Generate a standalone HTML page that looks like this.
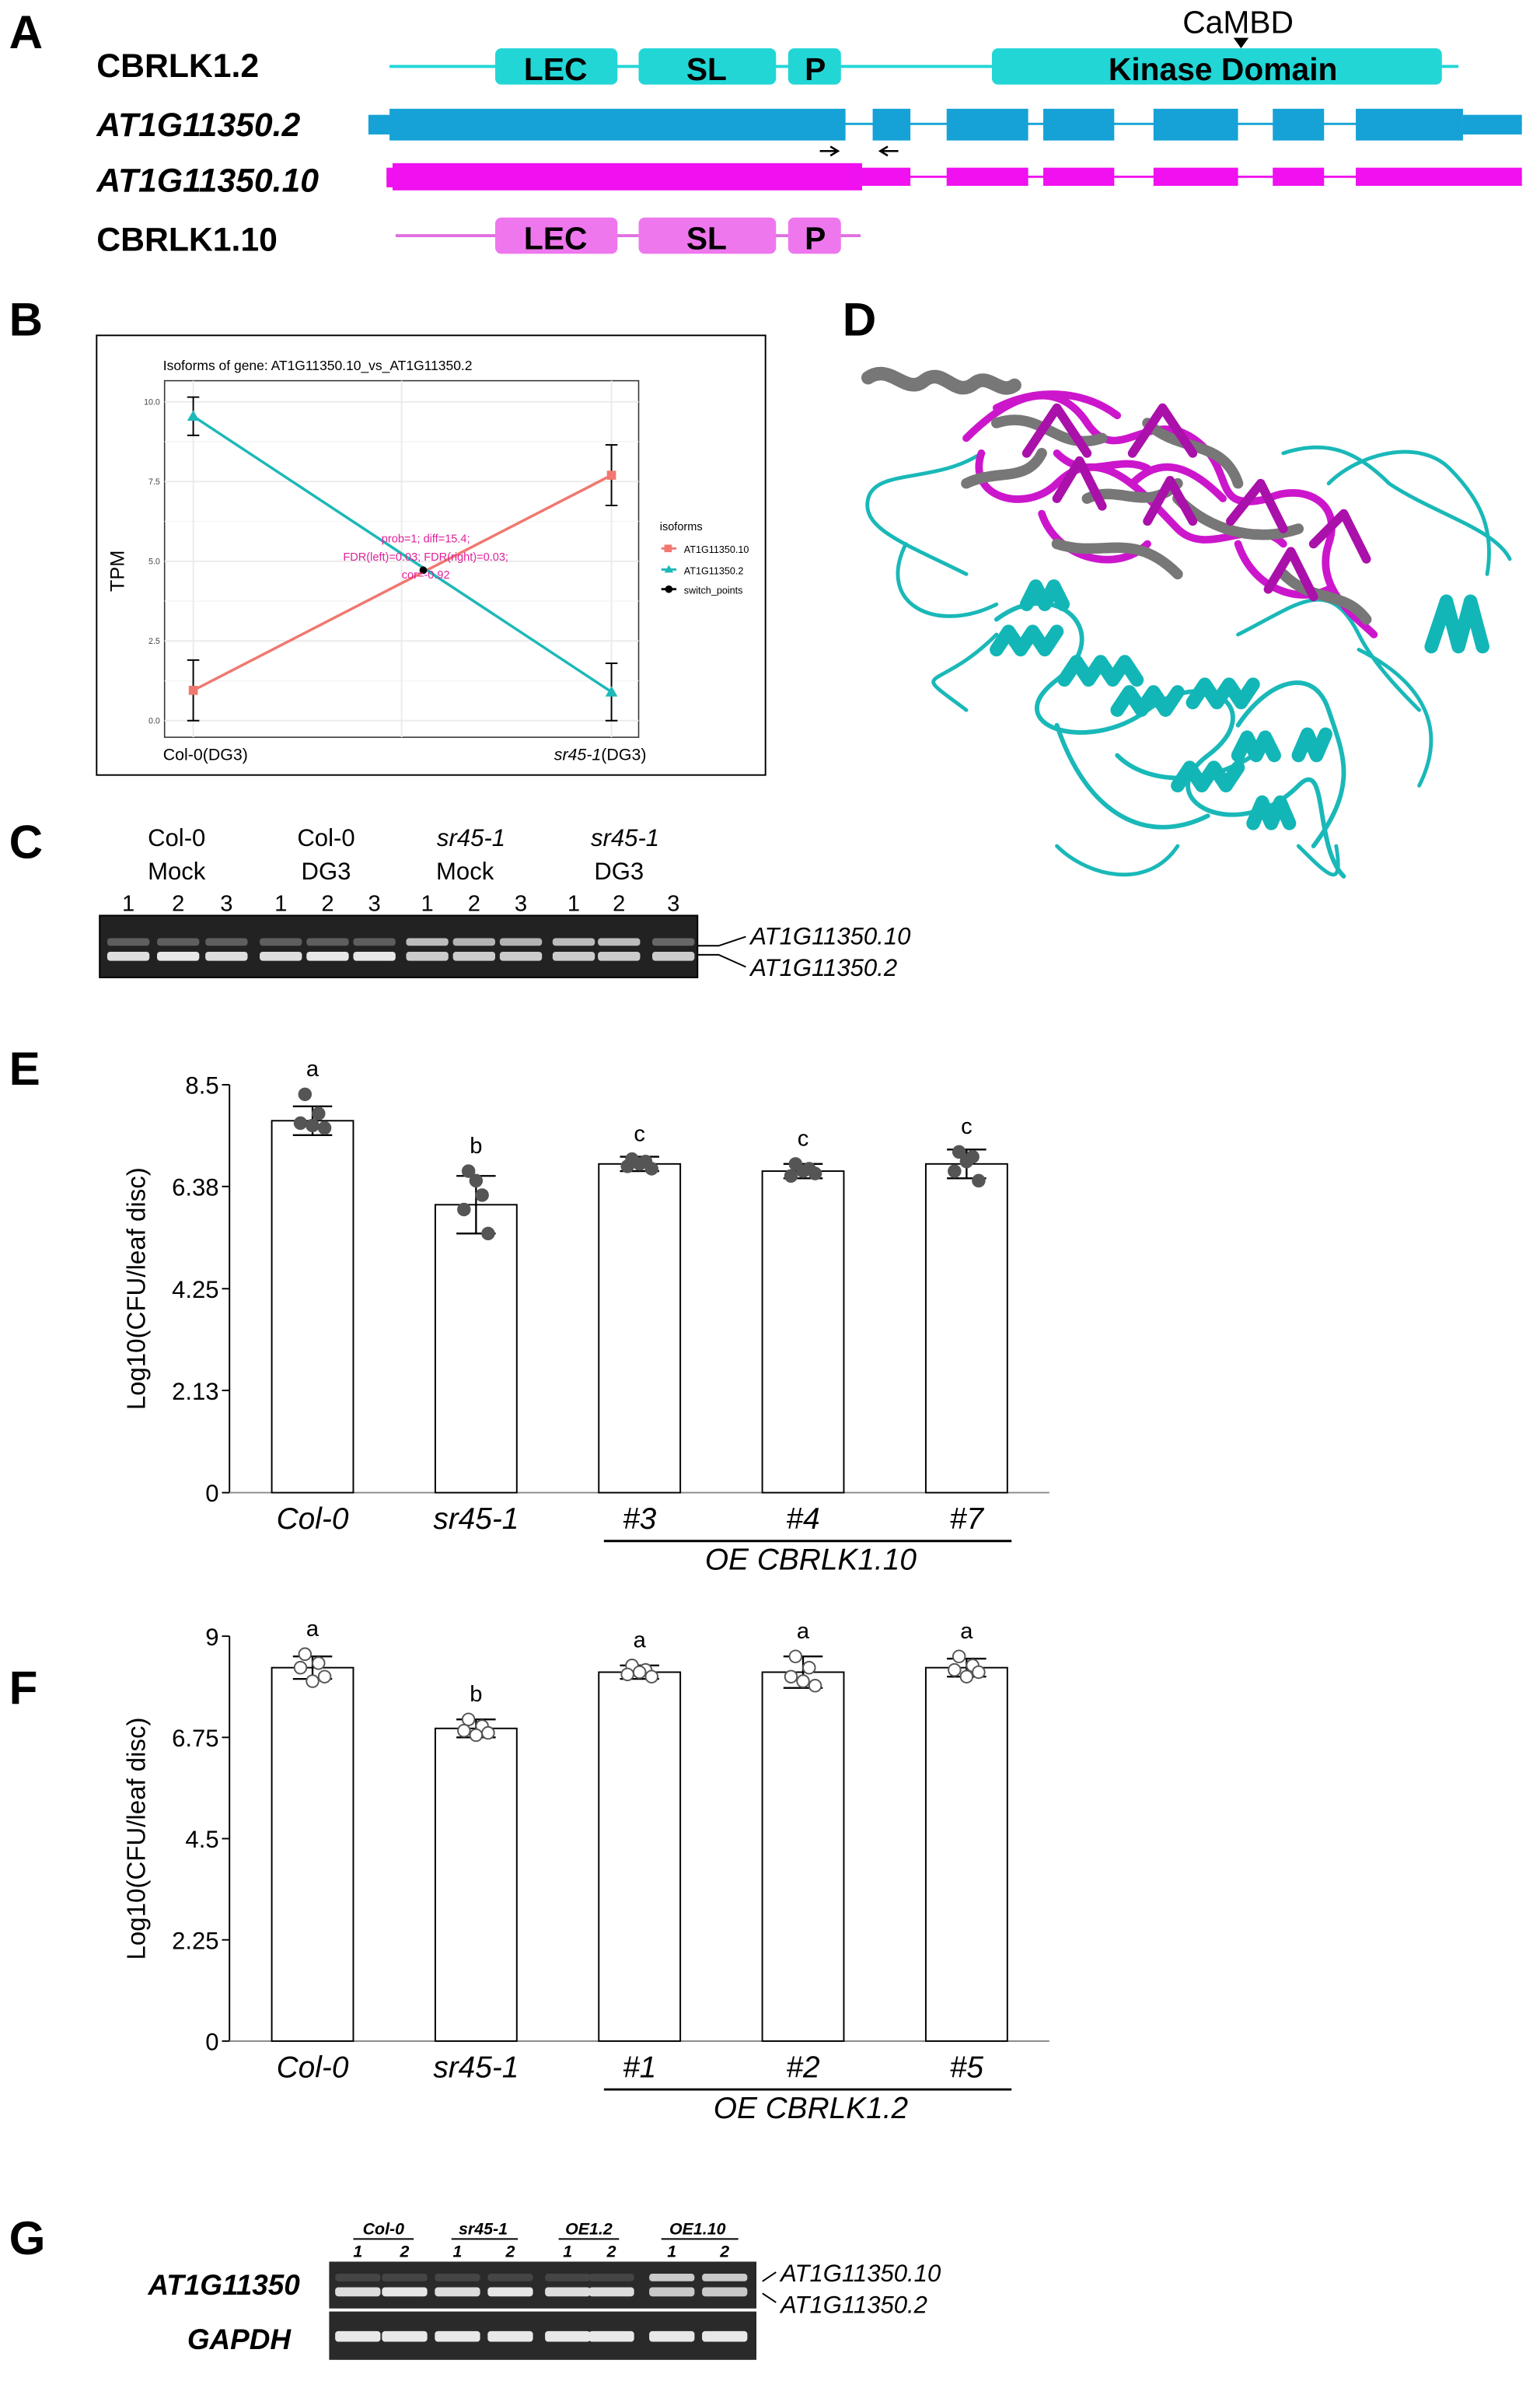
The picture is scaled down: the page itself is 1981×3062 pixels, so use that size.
<!DOCTYPE html>
<html><head><meta charset="utf-8">
<style>
html,body{margin:0;padding:0;background:#fff;}
svg{display:block;font-family:"Liberation Sans",Arial,sans-serif;}
</style></head>
<body>
<svg id="fig" xmlns="http://www.w3.org/2000/svg" width="1981" height="3062" viewBox="0 0 1020 1576" preserveAspectRatio="none">
<rect x="0" y="0" width="1020" height="1576" fill="#fff"/>

<!-- Panel letters -->
<g font-weight="bold" font-size="31" fill="#000">
<text x="6" y="32">A</text><text x="6" y="222">B</text><text x="558" y="222">D</text>
<text x="6" y="568">C</text><text x="6" y="718">E</text><text x="6" y="1128">F</text><text x="6" y="1492">G</text>
</g>

<!-- Panel A -->
<g>
<g font-weight="bold" font-size="22" fill="#000">
<text x="64" y="51">CBRLK1.2</text>
<text x="64" y="90" font-style="italic">AT1G11350.2</text>
<text x="64" y="127" font-style="italic">AT1G11350.10</text>
<text x="64" y="166">CBRLK1.10</text>
</g>
<line x1="258" y1="44" x2="966" y2="44" stroke="#22d6d6" stroke-width="2"/>
<g fill="#22d6d6">
<rect x="328" y="32" width="81" height="24" rx="4"/><rect x="423" y="32" width="91" height="24" rx="4"/>
<rect x="522" y="32" width="35" height="24" rx="4"/><rect x="657" y="32" width="298" height="24" rx="4"/>
</g>
<g font-weight="bold" font-size="21" fill="#000" text-anchor="middle">
<text x="368" y="53">LEC</text><text x="468" y="53">SL</text><text x="540" y="53">P</text><text x="810" y="53">Kinase Domain</text>
<text x="820" y="22" font-weight="normal">CaMBD</text>
</g>
<path d="M817 25 L827 25 L822 32 Z" fill="#000"/>
<line x1="244" y1="82" x2="1008" y2="82" stroke="#16a2d6" stroke-width="1.5"/>
<g fill="#16a2d6">
<rect x="244" y="76" width="16" height="13"/><rect x="258" y="72" width="302" height="21"/>
<rect x="578" y="72" width="25" height="21"/><rect x="627" y="72" width="54" height="21"/>
<rect x="691" y="72" width="47" height="21"/><rect x="764" y="72" width="56" height="21"/>
<rect x="843" y="72" width="34" height="21"/><rect x="898" y="72" width="71" height="21"/>
<rect x="969" y="76" width="39" height="13"/>
</g>
<path d="M543 100 H554 M550 97 L555 100 L550 103" stroke="#000" stroke-width="1.3" fill="none"/>
<path d="M595 100 H584 M588 97 L583 100 L588 103" stroke="#000" stroke-width="1.3" fill="none"/>
<line x1="256" y1="117" x2="1008" y2="117" stroke="#f010f0" stroke-width="1.5"/>
<g fill="#f010f0">
<rect x="256" y="111" width="6" height="13"/><rect x="260" y="108" width="311" height="18"/>
<rect x="571" y="111" width="32" height="12"/><rect x="627" y="111" width="54" height="12"/>
<rect x="691" y="111" width="47" height="12"/><rect x="764" y="111" width="56" height="12"/>
<rect x="843" y="111" width="34" height="12"/><rect x="898" y="111" width="110" height="12"/>
</g>
<line x1="262" y1="156" x2="570" y2="156" stroke="#e070e0" stroke-width="2"/>
<g fill="#ee77ee">
<rect x="328" y="144" width="81" height="24" rx="4"/><rect x="423" y="144" width="91" height="24" rx="4"/>
<rect x="522" y="144" width="35" height="24" rx="4"/>
</g>
<g font-weight="bold" font-size="21" fill="#000" text-anchor="middle">
<text x="368" y="165">LEC</text><text x="468" y="165">SL</text><text x="540" y="165">P</text>
</g>
</g>

<!-- Panel B -->
<g id="panelB">
<rect x="64" y="222" width="443" height="291" fill="#fff" stroke="#000" stroke-width="1"/>
<text x="108" y="245" font-size="9" fill="#000">Isoforms of gene: AT1G11350.10_vs_AT1G11350.2</text>
<rect x="109" y="252" width="314" height="236" fill="#fff" stroke="#333" stroke-width="0.8"/>
<g id="bGrid"></g>
<text transform="translate(82,378) rotate(-90)" text-anchor="middle" font-size="13" fill="#000">TPM</text>
<text x="108" y="503" font-size="11" fill="#000">Col-0(DG3)</text>
<text x="367" y="503" font-size="11" fill="#000"><tspan font-style="italic">sr45-1</tspan>(DG3)</text>
<g id="bMarks"></g>
<g font-size="6.5" fill="#000">
<text x="437" y="351" font-size="7.5">isoforms</text>
<line x1="438" y1="363" x2="448" y2="363" stroke="#f07870" stroke-width="1.5"/><rect x="440" y="360.5" width="5" height="5" fill="#f07870"/><text x="453" y="366">AT1G11350.10</text>
<line x1="438" y1="377" x2="448" y2="377" stroke="#1db8b8" stroke-width="1.5"/><path d="M443 374 L446 379 L440 379Z" fill="#1db8b8"/><text x="453" y="380">AT1G11350.2</text>
<line x1="438" y1="390" x2="448" y2="390" stroke="#000" stroke-width="1.5"/><circle cx="443" cy="390" r="2.5" fill="#000"/><text x="453" y="393">switch_points</text>
</g>
<g font-size="7.5" fill="#e0209a" text-anchor="middle">
<text x="282" y="359">prob=1; diff=15.4;</text>
<text x="282" y="371">FDR(left)=0.03; FDR(right)=0.03;</text>
<text x="282" y="383">cor=-0.92</text>
</g>
</g>

<!-- Panel D: protein structure (approximation) -->
<g fill="none" stroke-linecap="round" stroke-linejoin="round">
<path d="M575 250 C590 240,600 262,612 252 C625 242,632 264,645 254 C655 246,662 262,672 255" stroke="#777" stroke-width="9"/>
<path d="M640 380 C600 360,570 350,575 330 C580 310,620 320,650 300 M660 420 C620 460,600 440,640 470 M600 360 C580 400,620 420,660 400 M850 300 C880 290,900 300,920 320 C950 340,990 350,1000 370 M900 430 C940 450,960 480,940 520 M700 560 C720 580,760 590,780 560 M860 560 C880 580,890 590,885 560" stroke="#1ab8b8" stroke-width="2.5"/>
<path d="M660 410 C700 380,740 420,700 450 C660 480,720 500,760 470 C800 440,840 470,800 500 C760 530,820 560,860 520 C880 500,870 560,890 580 M700 480 C720 540,760 560,800 540 M820 480 C840 450,870 440,880 470 C890 500,900 520,870 560 M740 500 C760 520,800 520,830 500" stroke="#1ab8b8" stroke-width="3"/>
<path d="M880 320 C900 300,940 290,960 310 C980 330,990 350,985 380 M820 420 C860 400,880 380,900 420 C910 440,930 460,940 470" stroke="#1ab8b8" stroke-width="2.5"/>
<path d="M948 428 l10 -30 l8 30 l8 -30 l8 30 M660 430 l8 -12 l8 12 l8 -12 l8 12 l8 -12 M705 450 l8 -12 l8 12 l8 -12 l8 12 l8 -12 l8 12 M740 470 l8 -12 l8 12 l8 -12 l8 12 l8 -12 M790 465 l8 -12 l8 12 l8 -12 l8 12 l8 -12 M780 520 l8 -12 l8 12 l8 -12 l8 12 l8 -12 M820 500 l6 -12 l6 12 l6 -12 l6 12 M860 500 l6 -14 l6 14 l6 -14 M830 545 l6 -14 l6 14 l6 -14 l6 14 M680 400 l6 -12 l6 12 l6 -12 l6 12" stroke="#13b6b6" stroke-width="9"/>
<path d="M640 290 C670 260,700 250,720 280 C740 310,760 270,790 290 C820 310,800 340,840 330 C860 320,890 330,880 360 C870 390,900 410,910 420 M650 300 C640 330,680 340,700 320 C730 290,760 330,780 350 C800 370,830 340,850 360 M690 340 C700 370,740 380,760 360 M820 360 C830 390,860 400,880 390 M660 270 C690 255,720 260,740 275 M750 320 C770 300,790 310,810 330 M700 300 C720 320,740 300,760 310" stroke="#cc16cc" stroke-width="5"/>
<path d="M660 280 C690 270,700 300,730 290 M760 280 C780 300,810 290,820 320 M780 330 C800 350,830 360,860 350 M700 360 C730 370,750 350,780 380 M850 380 C870 400,890 390,905 410 M640 320 C660 310,680 320,690 300 M720 330 C740 320,760 340,780 320" stroke="#777" stroke-width="7"/>
<path d="M750 300 L770 270 L790 300 M815 345 L835 320 L850 350 M870 360 L890 340 L905 370 M680 300 L700 270 L720 300 M700 330 L715 305 L730 335 M760 345 L775 318 L790 345 M840 390 L855 365 L870 395" stroke="#aa10aa" stroke-width="6"/>
</g>

<!-- Panel C gel -->
<g>
<g font-size="16" fill="#000" text-anchor="middle">
<text x="117" y="560">Col-0</text><text x="117" y="582">Mock</text>
<text x="216" y="560">Col-0</text><text x="216" y="582">DG3</text>
<text x="312" y="560" font-style="italic">sr45-1</text><text x="308" y="582">Mock</text>
<text x="414" y="560" font-style="italic">sr45-1</text><text x="410" y="582">DG3</text>
</g>
<g id="cLanes" font-size="15" fill="#000" text-anchor="middle"></g>
<rect x="66" y="606" width="396" height="41" fill="#222" stroke="#000"/>
<g id="cBands"></g>
<g font-size="16" font-style="italic" fill="#000">
<text x="497" y="625">AT1G11350.10</text><text x="497" y="646">AT1G11350.2</text>
</g>
<path d="M462 626 L476 626 L494 620 M462 632 L476 632 L494 640" stroke="#000" stroke-width="1" fill="none"/>
</g>

<g id="panelE"></g>
<g id="panelF"></g>

<!-- Panel G gel -->
<g>
<g font-size="11" font-weight="bold" font-style="italic" fill="#000" text-anchor="middle">
<text x="254" y="1479">Col-0</text><text x="320" y="1479">sr45-1</text><text x="390" y="1479">OE1.2</text><text x="462" y="1479">OE1.10</text>
<text x="237" y="1494">1</text><text x="268" y="1494">2</text><text x="303" y="1494">1</text><text x="338" y="1494">2</text>
<text x="376" y="1494">1</text><text x="405" y="1494">2</text><text x="445" y="1494">1</text><text x="480" y="1494">2</text>
</g>
<path d="M234 1482 H274 M299 1482 H343 M370 1482 H410 M438 1482 H489" stroke="#000" stroke-width="1"/>
<text x="98" y="1519" font-size="19" font-weight="bold" font-style="italic">AT1G11350</text>
<text x="124" y="1555" font-size="19" font-weight="bold" font-style="italic">GAPDH</text>
<rect x="218" y="1497" width="283" height="31" fill="#2a2a2a"/>
<rect x="218" y="1530" width="283" height="32" fill="#2a2a2a"/>
<g id="gBands"></g>
<g font-size="16" font-style="italic" fill="#000"><text x="517" y="1510">AT1G11350.10</text><text x="517" y="1531">AT1G11350.2</text></g>
<path d="M505 1510 L514 1504 M505 1518 L514 1524" stroke="#000" stroke-width="1"/>
</g>
</svg>

<script>
const NS="http://www.w3.org/2000/svg";
function mk(parent,tag,attrs,txt){const e=document.createElementNS(NS,tag);for(const k in attrs)e.setAttribute(k,attrs[k]);if(txt!==undefined)e.textContent=txt;parent.appendChild(e);return e;}

const bConditions=["Col-0(DG3)","sr45-1(DG3)"];
const bIso10=[0.95,7.7];
const bIso10Err=[0.95,0.95];
const bIso2=[9.55,0.9];
const bIso2Err=[0.6,0.9];
const bTicks=[0,2.5,5,7.5,10];
const bSwitch=[0.55,4.72];

(function(){
 const g=document.getElementById('bMarks'), gg=document.getElementById('bGrid');
 const x=i=>128+i*(405-128);
 const xs=t=>128+t*(405-128);
 const y=v=>477-v*(477-266)/10;
 bTicks.forEach(t=>{
  mk(gg,'line',{x1:109,x2:423,y1:y(t),y2:y(t),stroke:'#ebebeb','stroke-width':1});
  const tl=mk(gg,'text',{x:106,y:y(t)+2,'font-size':5.5,'text-anchor':'end',fill:'#444'},t.toFixed(1));
  
  
 });
 for(let t=1.25;t<10;t+=2.5) mk(gg,'line',{x1:109,x2:423,y1:y(t),y2:y(t),stroke:'#f4f4f4','stroke-width':0.7});
 mk(gg,'line',{x1:266,x2:266,y1:252,y2:488,stroke:'#ebebeb','stroke-width':1});
 [0,1].forEach(i=>mk(gg,'line',{x1:x(i),x2:x(i),y1:252,y2:488,stroke:'#ebebeb','stroke-width':1}));
 const series=[[bIso10,bIso10Err,'#f07870','sq'],[bIso2,bIso2Err,'#1db8b8','tri']];
 series.forEach(([vals,errs,col,shape])=>{
  const l=mk(g,'polyline',{points:vals.map((v,i)=>x(i)+','+y(v)).join(' '),fill:'none',stroke:col,'stroke-width':1.8});
  
  
 });
 series.forEach(([vals,errs,col,shape])=>{
  vals.forEach((v,i)=>{
   const lo=Math.max(0,v-errs[i]),hi=v+errs[i];
   mk(g,'path',{d:`M${x(i)-4} ${y(hi)}H${x(i)+4}M${x(i)} ${y(hi)}V${y(lo)}M${x(i)-4} ${y(lo)}H${x(i)+4}`,stroke:'#000','stroke-width':1,fill:'none'});
   let m;
   if(shape==='sq') m=mk(g,'rect',{x:x(i)-3,y:y(v)-3,width:6,height:6,fill:col});
   else m=mk(g,'path',{d:`M${x(i)} ${y(v)-4}L${x(i)+4} ${y(v)+3}L${x(i)-4} ${y(v)+3}Z`,fill:col});
   
   
  });
 });
 const sp=mk(g,'circle',{cx:xs(bSwitch[0]),cy:y(bSwitch[1]),r:2.5,fill:'#000'});
 
 
})();

const cLaneNums=["1","2","3","1","2","3","1","2","3","1","2","3"];
const cUpper=[0.2,0.2,0.2,0.2,0.2,0.2,0.75,0.7,0.7,0.75,0.75,0.25];
const cLower=[0.9,0.95,0.9,0.9,0.95,0.95,0.8,0.8,0.8,0.8,0.8,0.8];
(function(){
 const lx=[85,118,150,186,217,248,283,314,345,380,410,446];
 const gl=document.getElementById('cLanes'), gb=document.getElementById('cBands');
 cLaneNums.forEach((n,i)=>{
  const t=mk(gl,'text',{x:lx[i],y:603},n);
  
  
  const c1=Math.round(60+cUpper[i]*170), c2=Math.round(60+cLower[i]*180);
  mk(gb,'rect',{x:lx[i]-14,y:621,width:28,height:5,rx:2,fill:`rgb(${c1},${c1},${c1})`});
  mk(gb,'rect',{x:lx[i]-14,y:630,width:28,height:6,rx:2,fill:`rgb(${c2},${c2},${c2})`});
 });
})();

const gUpper=[0.1,0.1,0.1,0.1,0.1,0.1,0.8,0.8];
const gLower=[0.85,0.9,0.85,0.9,0.85,0.85,0.75,0.75];
(function(){
 const lx=[237,268,303,338,376,405,445,480];
 const gb=document.getElementById('gBands');
 lx.forEach((x,i)=>{
  const c1=Math.round(50+gUpper[i]*190), c2=Math.round(50+gLower[i]*200);
  mk(gb,'rect',{x:x-15,y:1505,width:30,height:5,rx:2,fill:`rgb(${c1},${c1},${c1})`});
  mk(gb,'rect',{x:x-15,y:1514,width:30,height:6,rx:2,fill:`rgb(${c2},${c2},${c2})`});
  mk(gb,'rect',{x:x-15,y:1543,width:30,height:7,rx:2,fill:'#e8e8e8'});
 });
})();

const eCategories=["Col-0","sr45-1","#3","#4","#7"];
const eValues=[7.75,6.0,6.85,6.7,6.85];
const eErrors=[0.3,0.6,0.15,0.15,0.3];
const eLetters=["a","b","c","c","c"];
const eTicks=[0,2.13,4.25,6.38,8.5];
const ePoints=[[8.3,7.9,7.7,7.6,7.65],[6.7,6.2,5.9,5.4,6.5],[6.95,6.9,6.8,6.75,6.85],[6.85,6.75,6.6,6.65,6.7],[7.1,7.0,6.7,6.5,6.9]];
const fCategories=["Col-0","sr45-1","#1","#2","#5"];
const fValues=[8.3,6.95,8.2,8.2,8.3];
const fErrors=[0.25,0.2,0.15,0.35,0.2];
const fLetters=["a","b","a","a","a"];
const fTicks=[0,2.25,4.5,6.75,9];
const fPoints=[[8.6,8.4,8.3,8.1,8.0],[7.15,7.0,6.9,6.85,6.8],[8.35,8.25,8.15,8.1,8.2],[8.55,8.3,8.1,7.9,8.0],[8.55,8.35,8.25,8.2,8.1]];

function barChart(id,cats,vals,errs,letters,ticks,pts,y0,yTop,maxV,hollow,oeLabel,tickLabels){
 const g=document.getElementById(id);
 const ax=152, cx=i=>207+i*108.3, bw=54;
 const y=v=>y0-v*(y0-yTop)/maxV;
 mk(g,'line',{x1:ax,x2:ax,y1:yTop,y2:y0,stroke:'#000','stroke-width':1});
 mk(g,'line',{x1:ax,x2:695,y1:y0,y2:y0,stroke:'#888','stroke-width':1});
 ticks.forEach((t,k)=>{
  mk(g,'line',{x1:ax-5,x2:ax,y1:y(t),y2:y(t),stroke:'#000'});
  const tl=mk(g,'text',{x:ax-7,y:y(t)+6,'text-anchor':'end','font-size':16,fill:'#000'},tickLabels[k]);
  
  
 });
 const yt=mk(g,'text',{transform:`translate(96,${(y0+yTop)/2}) rotate(-90)`,'text-anchor':'middle','font-size':17,fill:'#000'},'Log10(CFU/leaf disc)');
 
 
 vals.forEach((v,i)=>{
  const b=mk(g,'rect',{x:cx(i)-bw/2,y:y(v),width:bw,height:y0-y(v),fill:'#fff',stroke:'#000','stroke-width':1});
  
  
  const hi=y(v+errs[i]),lo=y(v-errs[i]);
  mk(g,'path',{d:`M${cx(i)-13} ${hi}H${cx(i)+13}M${cx(i)} ${hi}V${lo}M${cx(i)-13} ${lo}H${cx(i)+13}`,stroke:'#000','stroke-width':1.2,fill:'none'});
  pts[i].forEach((p,k)=>{
   const dx=[-5,4,-8,8,0][k];
   const d=mk(g,'circle',{cx:cx(i)+dx,cy:y(p),r:4,fill:hollow?'#fff':'#555',stroke:'#555','stroke-width':1});
   
   
  });
  const topY=Math.min(hi,y(Math.max(...pts[i]))-4);
  const lt=mk(g,'text',{x:cx(i),y:topY-8,'text-anchor':'middle','font-size':15,fill:'#000'},letters[i]);
  
  
  const cl=mk(g,'text',{x:cx(i),y:y0+24,'text-anchor':'middle','font-size':20,'font-style':'italic',fill:'#000'},cats[i]);
  
  
 });
 mk(g,'line',{x1:400,x2:670,y1:y0+32,y2:y0+32,stroke:'#000','stroke-width':1.5});
 const oe=mk(g,'text',{x:537,y:y0+51,'text-anchor':'middle','font-size':20,'font-style':'italic',fill:'#000'},oeLabel);
 
 
}
barChart('panelE',eCategories,eValues,eErrors,eLetters,eTicks,ePoints,988,718,8.5,false,'OE CBRLK1.10',["0","2.13","4.25","6.38","8.5"]);
barChart('panelF',fCategories,fValues,fErrors,fLetters,fTicks,fPoints,1351,1083,9,true,'OE CBRLK1.2',["0","2.25","4.5","6.75","9"]);
</script>
</body></html>
